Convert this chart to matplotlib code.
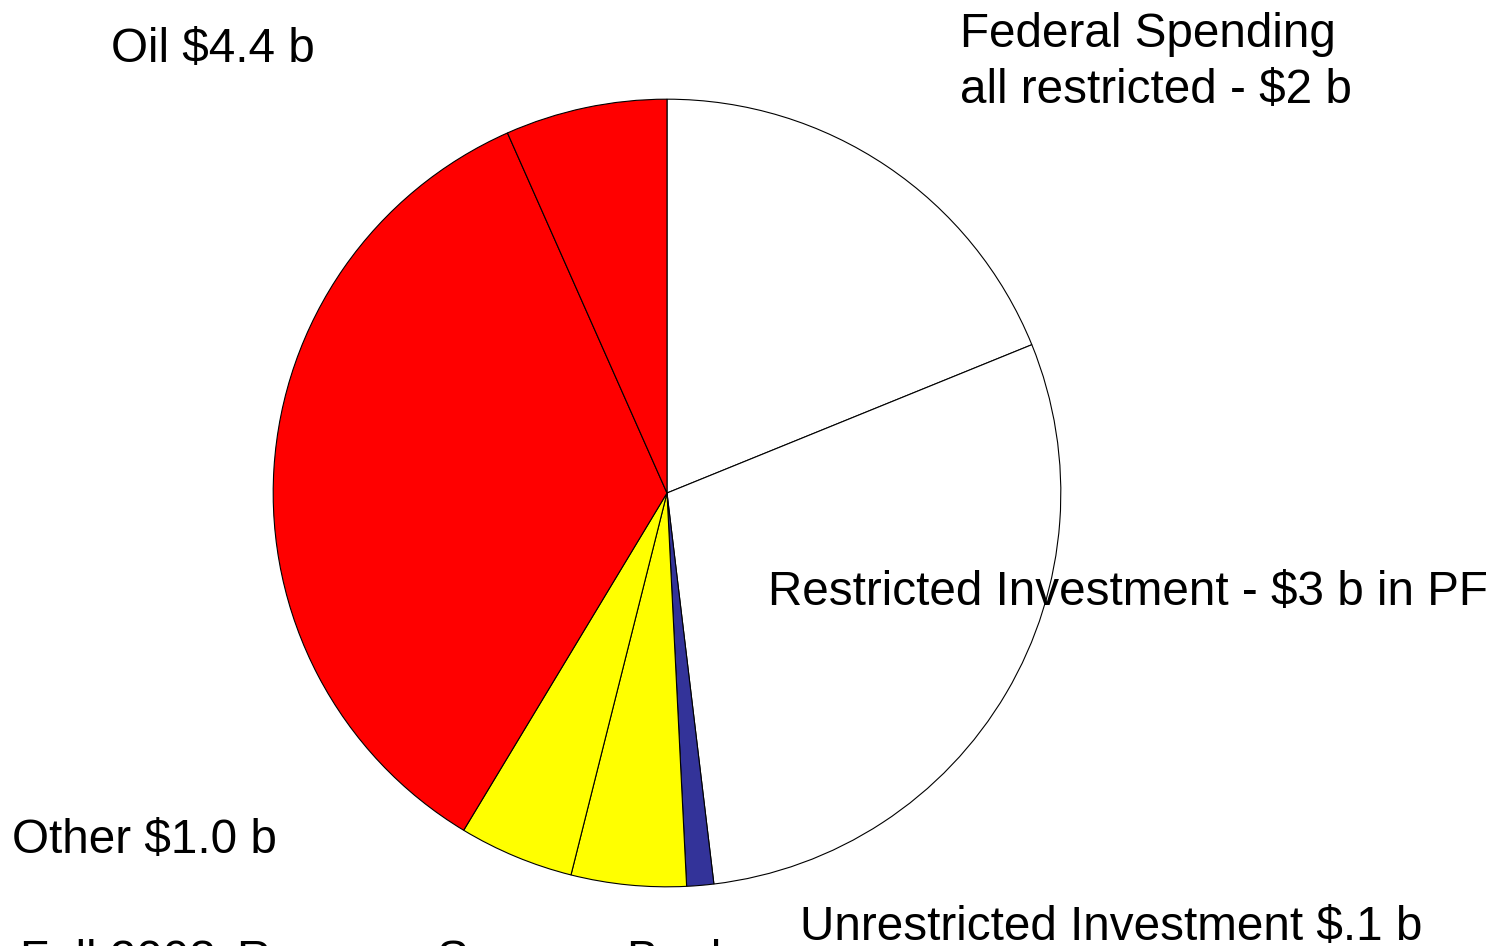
import matplotlib
matplotlib.use("Agg")
import matplotlib.pyplot as plt

plt.rcParams['font.family'] = ['Liberation Sans', 'DejaVu Sans']

# Slices, clockwise from 12 o'clock (values in $ billions)
slice_names = ["Federal Spending", "Restricted Investment", "Unrestricted Investment",
               "Other A", "Other B", "Oil A", "Oil B"]
slice_values = [1.96, 3.04, 0.115, 0.49, 0.49, 3.61, 0.69]
slice_colors = ["#FFFFFF", "#FFFFFF", "#333399", "#FFFF00", "#FFFF00", "#FF0000", "#FF0000"]

labels = [
    ("Oil $4.4 b", 111, 62),
    ("Federal Spending", 960, 47),
    ("all restricted - $2 b", 960, 103),
    ("Restricted Investment - $3 b in PF", 768, 605),
    ("Other $1.0 b", 12, 853),
    ("Unrestricted Investment $.1 b", 800, 940),
]
# footer words (widely spaced in the reference, partly cut off at the bottom)
footer_words = [("Fall 2008", 20), ("Revenue", 236), ("Source", 437), ("Book", 626)]
footer_baseline = 974

W, H = 1506, 946
fig = plt.figure(figsize=(W / 100, H / 100), dpi=100)
cx, cy, r = 667, 493, 395
ax = fig.add_axes([(cx - r) / W, (H - cy - r) / H, 2 * r / W, 2 * r / H])
ax.pie(slice_values, colors=slice_colors, startangle=90, counterclock=False,
       radius=1, wedgeprops=dict(edgecolor="black", linewidth=0.8))
ax.set_xlim(-1.003, 1.003)
ax.set_ylim(-1.003, 1.003)
ax.set_aspect('equal')
ax.axis('off')

FS = 34.3
for txt, x, y in labels:
    fig.text(x / W, 1 - y / H, txt, fontsize=FS, ha='left', va='baseline', color='black')
for txt, x in footer_words:
    fig.text(x / W, 1 - footer_baseline / H, txt, fontsize=FS, ha='left', va='baseline',
             color='black')

fig.savefig("out.png", dpi=100)
